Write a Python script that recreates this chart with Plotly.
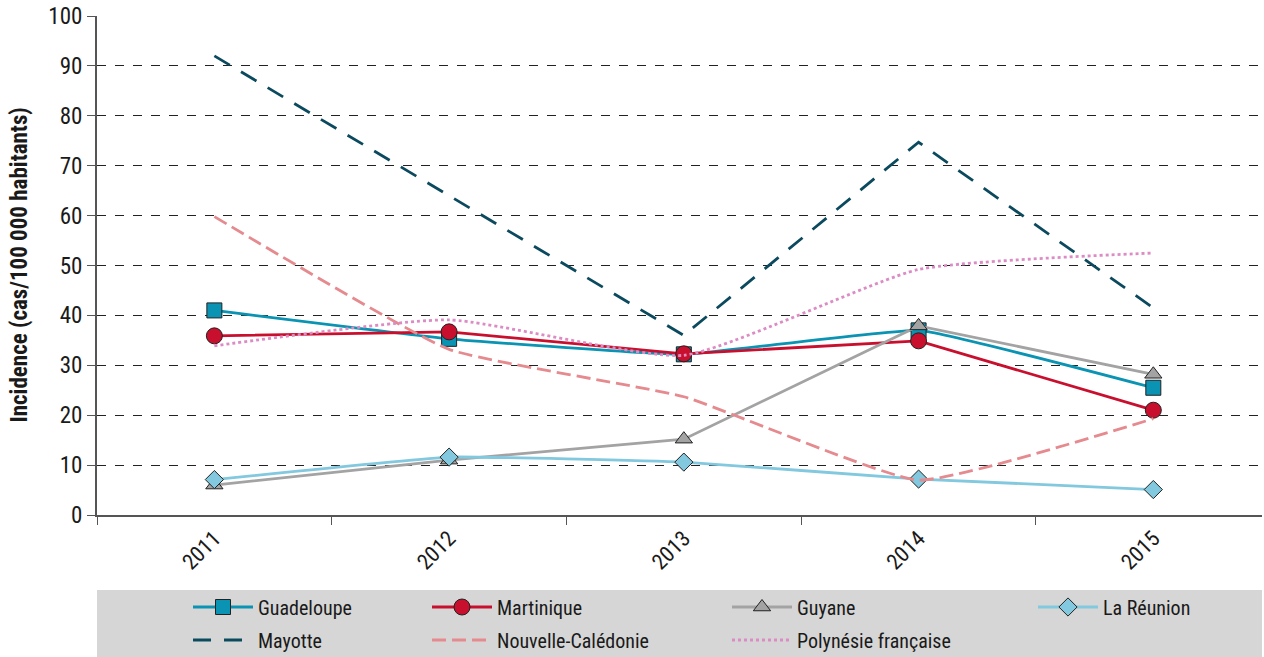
import plotly.graph_objects as go

years = ["2011", "2012", "2013", "2014", "2015"]
guadeloupe = [41.0, 35.3, 32.2, 37.0, 25.5]
martinique = [35.9, 36.7, 32.3, 34.9, 21.0]
guyane = [6.0, 11.0, 15.2, 37.9, 28.2]
reunion = [7.1, 11.6, 10.6, 7.2, 5.1]
mayotte = [92.0, 64.0, 36.0, 74.7, 41.5]
nouvelle_caledonie = [59.8, 33.2, 23.7, 7.0, 19.3]
polynesie = [33.9, 39.1, 32.0, 49.2, 52.5]

FONT = "Liberation Sans Narrow, Roboto Condensed, Arial Narrow, Roboto, Liberation Sans, sans-serif"

series = [
    dict(name="Guadeloupe", y=guadeloupe, color="#0a93b2", dash="solid", symbol="square", size=15, shape="spline", smooth=0.3),
    dict(name="Martinique", y=martinique, color="#c8102e", dash="solid", symbol="circle", size=16, shape="linear", smooth=0),
    dict(name="Guyane", y=guyane, color="#a3a3a3", dash="solid", symbol="triangle-up", size=15, shape="linear", smooth=0),
    dict(name="La Réunion", y=reunion, color="#82c8de", dash="solid", symbol="diamond", size=14, shape="spline", smooth=0.3),
    dict(name="Mayotte", y=mayotte, color="#0b4a5e", dash="18px,13px", symbol=None, size=0, shape="linear", smooth=0),
    dict(name="Nouvelle-Calédonie", y=nouvelle_caledonie, color="#e58a8e", dash="14px,6px", symbol=None, size=0, shape="spline", smooth=0.4),
    dict(name="Polynésie française", y=polynesie, color="#dc8cc4", dash="dot", symbol=None, size=0, shape="spline", smooth=0.5),
]

# legend placement in container pixels (left of entry, vertical centre)
legend_pos = {
    "Guadeloupe": (188, 607), "Mayotte": (188, 640),
    "Martinique": (427, 607), "Nouvelle-Calédonie": (427, 640),
    "Guyane": (727, 607), "Polynésie française": (727, 640),
    "La Réunion": (1033, 607),
}

W, H = 1264, 657
X0, X1, Y0, Y1 = 97, 1262, 16, 515

fig = go.Figure()
layout_legends = {}
for i, s in enumerate(series):
    lname = "legend" if i == 0 else f"legend{i+1}"
    mode = "lines+markers" if s["symbol"] else "lines"
    tr = go.Scatter(
        x=years, y=s["y"], name=s["name"], mode=mode, showlegend=True,
        line=dict(color=s["color"], width=2.8, dash=s["dash"], shape=s["shape"],
                  smoothing=s["smooth"] if s["shape"] == "spline" else None),
        legend=lname,
    )
    if s["symbol"]:
        tr.marker = dict(symbol=s["symbol"], size=s["size"], color=s["color"],
                         line=dict(color="#222222", width=1))
    fig.add_trace(tr)
    px, py = legend_pos[s["name"]]
    layout_legends[lname] = dict(
        xref="container", yref="container",
        x=px / W, y=1 - py / H,
        xanchor="left", yanchor="middle",
        bgcolor="rgba(0,0,0,0)", borderwidth=0,
        font=dict(family=FONT, size=20, color="#1a1a1a"),
        itemwidth=60, visible=True,
    )

fig.add_shape(type="rect", xref="paper", yref="paper",
              x0=0, x1=1, y0=(Y1 - 660) / (Y1 - Y0), y1=(Y1 - 590) / (Y1 - Y0),
              fillcolor="#d6d6d6", line=dict(width=0), layer="below")

fig.add_annotation(
    text="<b>Incidence (cas/100 000 habitants)</b>",
    xref="paper", yref="paper", x=-(X0 - 19) / (X1 - X0), y=0.5,
    xanchor="center", yanchor="middle", textangle=-90, showarrow=False,
    font=dict(family=FONT, size=23, color="#1a1a1a"),
)

fig.update_layout(
    width=W, height=H, showlegend=True,
    margin=dict(l=X0, r=W - X1, t=Y0, b=H - Y1, autoexpand=False),
    paper_bgcolor="white", plot_bgcolor="white",
    font=dict(family=FONT, size=20, color="#1a1a1a"),
    **layout_legends,
)
fig.update_xaxes(
    type="category", range=[-0.5, 4.463], automargin=False,
    showline=True, linecolor="#555555", linewidth=2,
    ticks="outside", tickson="boundaries", ticklen=8, tickcolor="#555555",
    tickangle=-45, showgrid=False, tickfont=dict(size=22),
)
fig.update_yaxes(
    range=[0, 100], dtick=10, automargin=False,
    showline=True, linecolor="#555555", linewidth=2,
    ticks="outside", ticklen=8, tickcolor="#555555",
    showgrid=True, gridcolor="#222222", griddash="dash", gridwidth=1,
    zeroline=False, tickfont=dict(size=23),
)

fig.write_html("out.html", config={"displayModeBar": False},
               post_script="document.body.style.margin='0';")
